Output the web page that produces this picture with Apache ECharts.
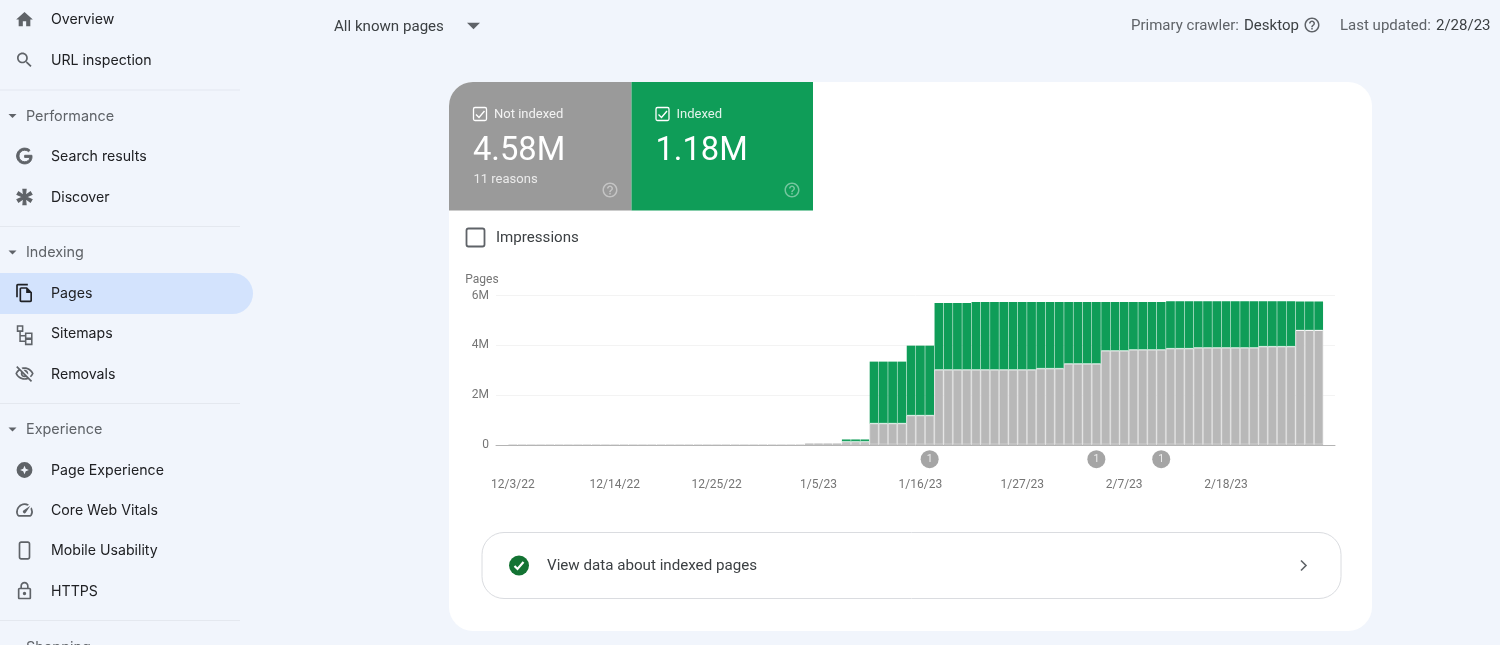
<!DOCTYPE html>
<html><head><meta charset="utf-8"><title>Pages</title>
<style>html,body{margin:0;padding:0;background:#f1f5fc;overflow:hidden}#c{width:1500px;height:645px}</style>
<script src="https://cdn.jsdelivr.net/npm/echarts@6/dist/echarts.min.js"></script></head>
<body><div id="c"></div>
<script>
// ---- chart data (millions of pages, one entry per day) ----
const days = [
 '12/3/22','12/4/22','12/5/22','12/6/22','12/7/22','12/8/22','12/9/22','12/10/22','12/11/22','12/12/22','12/13/22',
 '12/14/22','12/15/22','12/16/22','12/17/22','12/18/22','12/19/22','12/20/22','12/21/22','12/22/22','12/23/22','12/24/22',
 '12/25/22','12/26/22','12/27/22','12/28/22','12/29/22','12/30/22','12/31/22','1/1/23','1/2/23','1/3/23','1/4/23',
 '1/5/23','1/6/23','1/7/23','1/8/23','1/9/23','1/10/23','1/11/23','1/12/23','1/13/23','1/14/23','1/15/23',
 '1/16/23','1/17/23','1/18/23','1/19/23','1/20/23','1/21/23','1/22/23','1/23/23','1/24/23','1/25/23','1/26/23',
 '1/27/23','1/28/23','1/29/23','1/30/23','1/31/23','2/1/23','2/2/23','2/3/23','2/4/23','2/5/23','2/6/23',
 '2/7/23','2/8/23','2/9/23','2/10/23','2/11/23','2/12/23','2/13/23','2/14/23','2/15/23','2/16/23','2/17/23',
 '2/18/23','2/19/23','2/20/23','2/21/23','2/22/23','2/23/23','2/24/23','2/25/23','2/26/23','2/27/23','2/28/23'];
const notIndexed = [
 0.02,0.02,0.02,0.02,0.02,0.02,0.02,0.02,0.02,0.02,0.02,0.02,0.02,0.02,0.02,0.02,
 0.02,0.02,0.02,0.02,0.02,0.02,0.02,0.02,0.02,0.02,0.02,0.02,0.02,0.02,0.02,0.02,
 0.07,0.07,0.07,0.07,0.12,0.12,0.12,
 0.85,0.85,0.85,0.85,1.17,1.17,1.17,
 3.0,3.0,3.0,3.0,3.0,3.0,3.0,3.0,3.0,3.0,3.0,
 3.05,3.05,3.05,3.24,3.24,3.24,3.24,3.76,3.76,3.76,
 3.8,3.8,3.8,3.8,3.85,3.85,3.85,
 3.88,3.88,3.88,3.88,3.88,3.88,3.88,3.93,3.93,3.93,3.93,4.58,4.58,4.58];
const indexed = [
 0,0,0,0,0,0,0,0,0,0,0,0,0,0,0,0,
 0,0,0,0,0,0,0,0,0,0,0,0,0,0,0,0,
 0,0,0,0,0.11,0.11,0.11,
 2.5,2.5,2.5,2.5,2.82,2.82,2.82,
 2.7,2.7,2.7,2.7,2.74,2.74,2.74,2.74,2.74,2.74,2.74,
 2.69,2.69,2.69,2.5,2.5,2.5,2.5,1.98,1.98,1.98,
 1.94,1.94,1.94,1.94,1.92,1.92,1.92,
 1.89,1.89,1.89,1.89,1.89,1.89,1.89,1.84,1.84,1.84,1.84,1.18,1.18,1.18];
const yTickLabels = ['0','2M','4M','6M'];
const annotationDays = ['1/17/23','2/4/23','2/11/23'];
const annotationLabels = ['1','1','1'];
const seriesNames = ['Not indexed','Indexed'];
const seriesTotals = ['4.58M','1.18M'];

// ---- page chrome ----
const navRows = [
 ['Overview',20,'home'],['URL inspection',60.5,'search'],['Search results',156.5,'g'],['Discover',197.5,'star'],
 ['Pages',293.5,'pages'],['Sitemaps',334,'sitemap'],['Removals',374.5,'off'],['Page Experience',470.5,'pe'],
 ['Core Web Vitals',510.5,'speed'],['Mobile Usability',551,'phone'],['HTTPS',591.5,'lock']];
const navHeads = [['Performance',116.5],['Indexing',253],['Experience',430],['Shopping',648]];
const navRules = [89.5,226,403,620];
const icons = {
 home:'M10 20v-6h4v6h5v-8h3L12 3 2 12h3v8z',
 search:'M15.5 14h-.79l-.28-.27C15.41 12.59 16 11.11 16 9.5 16 5.91 13.09 3 9.5 3S3 5.91 3 9.5 5.91 16 9.5 16c1.61 0 3.09-.59 4.23-1.57l.27.28v.79l5 4.99L20.49 19l-4.99-5zm-6 0C7.01 14 5 11.99 5 9.5S7.01 5 9.5 5 14 7.01 14 9.5 11.99 14 9.5 14z',
 g:'M21.35 11.1h-9.17v2.73h6.51c-.33 3.81-3.5 5.44-6.5 5.44C8.36 19.27 5 16.25 5 12c0-4.1 3.2-7.27 7.2-7.27 3.09 0 4.9 1.97 4.9 1.97L19 4.72S16.56 2 12.1 2C6.42 2 2.03 6.8 2.03 12c0 5.05 4.13 10 10.22 10 5.35 0 9.25-3.67 9.25-9.09 0-1.15-.15-1.81-.15-1.81z',
 star:'M10 2H14L13.21 9.91L19.66 5.27L21.66 8.73L14.42 12L21.66 15.27L19.66 18.73L13.21 14.09L14 22H10L10.79 14.09L4.34 18.73L2.34 15.27L9.58 12L2.34 8.73L4.34 5.27L10.79 9.91L10 2Z',
 pages:'M16 1H4c-1.1 0-2 .9-2 2v14h2V3h12V1zm-1 4H8c-1.1 0-1.99.9-1.99 2L6 21c0 1.1.89 2 1.99 2H19c1.1 0 2-.9 2-2V11l-6-6zM8 21V7h6v5h5v9H8z',
 off:'M12 6c3.79 0 7.17 2.13 8.82 5.5-.59 1.22-1.42 2.27-2.41 3.12l1.41 1.41c1.39-1.23 2.49-2.77 3.18-4.53C21.27 7.11 17 4 12 4c-1.27 0-2.49.2-3.64.57l1.65 1.65C10.66 6.09 11.32 6 12 6zm-1.07 1.14L13 9.21c.57.25 1.03.71 1.28 1.28l2.07 2.07c.08-.34.14-.7.14-1.07C16.5 9.01 14.48 7 12 7c-.37 0-.72.05-1.07.14zM2.01 3.87l2.68 2.68C3.06 7.83 1.77 9.53 1 11.5 2.73 15.89 7 19 12 19c1.52 0 2.98-.29 4.32-.82l3.42 3.42 1.41-1.41L3.42 2.45 2.01 3.87zm7.5 7.5l2.61 2.61c-.04.01-.08.02-.12.02-1.38 0-2.5-1.12-2.5-2.5 0-.05.01-.08.01-.13zm-3.4-3.4l1.75 1.75c-.23.55-.36 1.15-.36 1.78 0 2.48 2.02 4.5 4.5 4.5.63 0 1.23-.13 1.77-.36l.98.98c-.88.24-1.8.38-2.75.38-3.79 0-7.17-2.13-8.82-5.5.7-1.43 1.72-2.61 2.93-3.53z',
 pe:'M12 2a10 10 0 1 0 0 20a10 10 0 1 0 0-20zM12 6.5l1.6 3.9L17.5 12l-3.9 1.6L12 17.5l-1.6-3.9L6.5 12l3.9-1.6z',
 speed:'M20.38 8.57l-1.23 1.85a8 8 0 0 1-.22 7.58H5.07A8 8 0 0 1 15.58 6.85l1.85-1.23A10 10 0 0 0 3.35 19a2 2 0 0 0 1.72 1h13.85a2 2 0 0 0 1.74-1 10 10 0 0 0-.27-10.44zm-9.79 6.84a2 2 0 0 0 2.83 0l5.66-8.49-8.49 5.66a2 2 0 0 0 0 2.83z',
 phone:'M16 1H8C6.34 1 5 2.34 5 4v16c0 1.66 1.34 3 3 3h8c1.66 0 3-1.34 3-3V4c0-1.66-1.34-3-3-3zm1 19c0 .55-.45 1-1 1H8c-.55 0-1-.45-1-1V4c0-.55.45-1 1-1h8c.55 0 1 .45 1 1z',
 lock:'M18 8h-1V6c0-2.76-2.24-5-5-5S7 3.24 7 6v2H6c-1.1 0-2 .9-2 2v10c0 1.1.9 2 2 2h12c1.1 0 2-.9 2-2V10c0-1.1-.9-2-2-2zM9 6c0-1.66 1.34-3 3-3s3 1.34 3 3v2H9V6zm9 14H6V10h12v10zm-6-3c1.1 0 2-.9 2-2s-.9-2-2-2-2 .9-2 2 .9 2 2 2z',
 help:'M11 18h2v-2h-2v2zm1-16C6.48 2 2 6.48 2 12s4.48 10 10 10 10-4.48 10-10S17.52 2 12 2zm0 18c-4.41 0-8-3.59-8-8s3.59-8 8-8 8 3.59 8 8-3.59 8-8 8zm0-14c-2.21 0-4 1.79-4 4h2c0-1.1.9-2 2-2s2 .9 2 2c0 2-3 1.75-3 5h2c0-2.25 3-2.5 3-5 0-2.21-1.79-4-4-4z',
 sitemap:'M1 1h5v5H1zM3.5 6V16H9M3.5 10.5H9M9 8h6v5H9zM9 14h6v5H9z',
 tick:'M3 7.5L6 10.5L11.5 4',
 okTick:'M-4.5 0.5L-1.5 3.5L4.5 -3.5',
 chevron:'M0 0L5 5L0 10'
};
Object.keys(icons).forEach(k=>echarts.graphic.registerShape('ico_'+k,echarts.graphic.extendPath(icons[k])));
const INK='#3c4043', MUTED='#5f6368', ICON='#5f6368', NAVFONT='Inter', CARDFONT='Roboto', AXISINK='#757575';
const Z=-10;
function text(t,x,y,size,fill,font,weight,align){
  return {type:'text',z:Z,silent:true,style:{text:t,x:x,y:y,fill:fill,textAlign:align||'left',textVerticalAlign:'middle',
    font:(weight||400)+' '+size+'px "'+(font||CARDFONT)+'", sans-serif'}};
}
function icon(name,cx,cy,size,fill,lw){
  const s=size/24;
  const style={fill:fill};
  if(lw){style.stroke=fill;style.lineWidth=lw;}
  return {type:'ico_'+name,z:Z,silent:true,x:cx-size/2,y:cy-size/2,scaleX:s,scaleY:s,shape:{},style:style};
}
function strokePath(name,x,y,s,stroke,lw){
  return {type:'ico_'+name,z:Z,silent:true,x:x,y:y,scaleX:s,scaleY:s,shape:{},style:{fill:'none',stroke:stroke,lineWidth:lw}};
}
function rect(x,y,w,h,r,style){
  return {type:'rect',z:Z,silent:true,shape:{x:x,y:y,width:w,height:h,r:r},style:style};
}
function caret(cx,cy,w,h,fill){
  return {type:'polygon',z:Z,silent:true,shape:{points:[[cx-w/2,cy-h/2],[cx+w/2,cy-h/2],[cx,cy+h/2]]},style:{fill:fill}};
}
const g=[];
// sidebar
g.push(rect(-30,273,283,41,20.5,{fill:'#d3e3fd'}));
navRules.forEach(y=>g.push(rect(0,y,240,1,0,{fill:'#e4e8ef'})));
navHeads.forEach(h=>{g.push(text(h[0],26,h[1],14.4,MUTED,NAVFONT)); if(h[0]!=='Shopping') g.push(caret(12.5,h[1]-.5,8,4,MUTED));});
navRows.forEach(r=>{
  g.push(text(r[0],51,r[1],14.15,'#202124',NAVFONT));
  const cy=r[1]-.5;
  if(r[2]==='sitemap') g.push(strokePath('sitemap',16.5,325,1.02,ICON,1.5));
  else if(r[2]==='g') g.push(icon('g',24.5,cy,19,ICON,1.2));
  else if(r[2]==='star') g.push(icon('star',24.5,cy,18.5,ICON,1.6));
  else if(r[2]==='pe') g.push(icon('pe',24.5,cy,19,ICON));
  else g.push(icon(r[2],24.5,cy,20,r[2]==='pages'?'#1f2125':ICON));
});
// top bar
g.push(text('All known pages',334,27,15.1,INK,CARDFONT));
g.push(caret(473.5,26,13,6.5,MUTED));
g.push(text('Primary crawler:',1131,26,15,MUTED,CARDFONT));
g.push(text('Desktop',1244,26,15,INK,CARDFONT));
g.push(icon('help',1312,25,18,MUTED));
g.push(text('Last updated:',1340,26,15,MUTED,CARDFONT));
g.push(text('2/28/23',1436,26,15,INK,CARDFONT));
// card
g.push(rect(449,82,923,549,24,{fill:'#ffffff'}));
g.push(rect(449,82,182.5,128.5,[24,0,0,0],{fill:'#9a9a9a'}));
g.push(rect(631.5,82,181.5,128.5,0,{fill:'#0f9d58'}));
[[473,0],[655.5,1]].forEach(c=>{
  const i=c[1];
  g.push(rect(c[0]+.5,107.5,13,13,1.5,{fill:'none',stroke:'#fff',lineWidth:1.3}));
  g.push(strokePath('tick',c[0],107,1,'#fff',1.4));
  g.push(text(seriesNames[i],c[0]+21,115,13,'rgba(255,255,255,.88)',CARDFONT));
  g.push(text(seriesTotals[i],c[0],151.5,32.7,'#fff',CARDFONT));
  g.push(icon('help',c[0]+(i?136.5:137),190,18,'rgba(255,255,255,.42)'));
});
g.push(text('11 reasons',473.5,179.5,13,'rgba(255,255,255,.8)',CARDFONT));
g.push(rect(466.5,228.5,18,18,2,{fill:'none',stroke:MUTED,lineWidth:1.8}));
g.push(text('Impressions',496,238.5,15.1,INK,CARDFONT));
// bottom link row
g.push(rect(482,532.5,859,66,22,{fill:'#fff',stroke:'#dadce0',lineWidth:1}));
g.push({type:'circle',z:Z,silent:true,shape:{cx:519,cy:565.5,r:10},style:{fill:'#137333'}});
g.push(strokePath('okTick',519,565.5,1,'#fff',2.2));
g.push(text('View data about indexed pages',547,566.5,15.15,INK,CARDFONT));
g.push(strokePath('chevron',1301,560.5,1,MUTED,1.6));

const chart=echarts.init(document.getElementById('c'),null,{renderer:'canvas',width:1500,height:645});
chart.setOption({
  animation:false,
  backgroundColor:'#f1f5fc',
  textStyle:{fontFamily:CARDFONT},
  graphic:{elements:g},
  tooltip:{show:false},
  grid:[
    {left:496,top:295.5,width:839,height:149.7},     // frame: base line, gridlines, y labels
    {left:508.2,top:295.5,width:815.1,height:149.7}  // the daily bands
  ],
  xAxis:[
    {gridIndex:0,type:'value',min:0,max:1,
     axisLine:{show:true,onZero:false,lineStyle:{color:'#b4b4b4',width:1}},
     axisTick:{show:false},splitLine:{show:false},axisLabel:{show:false}},
    {gridIndex:1,type:'category',data:days,boundaryGap:true,
     axisLine:{show:false},axisTick:{show:false},splitLine:{show:false},
     axisLabel:{interval:10,margin:34,color:AXISINK,fontSize:12,fontFamily:CARDFONT,hideOverlap:false}}
  ],
  yAxis:[
    {gridIndex:0,type:'value',min:0,max:6,interval:2,name:'Pages',nameLocation:'end',nameGap:10,
     nameTextStyle:{color:AXISINK,fontSize:12,fontFamily:CARDFONT,padding:[0,28,0,0]},
     axisLine:{show:false},axisTick:{show:false},
     splitLine:{lineStyle:{color:'#f3f3f3',width:1}},
     axisLabel:{margin:7,padding:[4,0,0,0],color:AXISINK,fontSize:12,fontFamily:CARDFONT,formatter:v=>yTickLabels[v/2]}},
    {gridIndex:1,type:'value',min:0,max:6,interval:2,show:false,splitLine:{show:false}}
  ],
  series:[
    {name:seriesNames[0],type:'bar',xAxisIndex:1,yAxisIndex:1,stack:'pages',z:3,barWidth:8.75,
     data:notIndexed,
     itemStyle:{color:'#b8b8b8',borderColor:'#bcbcbc',borderWidth:0.35,shadowColor:'#ffffff',shadowOffsetY:-1,shadowBlur:0}},
    {name:seriesNames[1],type:'bar',xAxisIndex:1,yAxisIndex:1,stack:'pages',z:2,barWidth:8.75,
     data:indexed,
     itemStyle:{color:'#0f9d58'}},
    {name:'Annotations',type:'scatter',xAxisIndex:1,yAxisIndex:1,clip:false,z:4,symbolSize:18,
     data:annotationDays.map((d,i)=>({value:[d,-0.56],label:{formatter:annotationLabels[i]}})),
     itemStyle:{color:'#8f8f8f'},
     label:{show:true,position:'inside',color:'#fff',fontSize:10.5,fontFamily:CARDFONT}}
  ]
});
</script></body></html>
